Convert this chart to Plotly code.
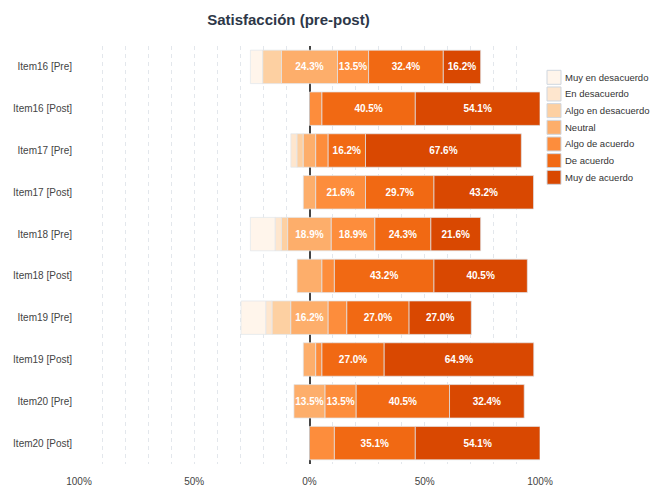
import plotly.graph_objects as go

categories = ["Item16 [Pre]", "Item16 [Post]", "Item17 [Pre]", "Item17 [Post]",
              "Item18 [Pre]", "Item18 [Post]", "Item19 [Pre]", "Item19 [Post]",
              "Item20 [Pre]", "Item20 [Post]"]

levels = ["Muy en desacuerdo", "En desacuerdo", "Algo en desacuerdo", "Neutral",
          "Algo de acuerdo", "De acuerdo", "Muy de acuerdo"]

muy_en_desacuerdo = [5.4, 0, 0, 0, 10.8, 0, 10.8, 0, 0, 0]
en_desacuerdo = [0, 0, 2.7, 0, 2.7, 0, 2.7, 0, 0, 0]
algo_en_desacuerdo = [8.1, 0, 2.7, 0, 2.7, 0, 8.1, 0, 0, 0]
neutral = [24.3, 0, 5.4, 5.4, 18.9, 10.8, 16.2, 5.4, 13.5, 0]
algo_de_acuerdo = [13.5, 5.4, 5.4, 21.6, 18.9, 5.4, 8.1, 2.7, 13.5, 10.8]
de_acuerdo = [32.4, 40.5, 16.2, 29.7, 24.3, 43.2, 27.0, 27.0, 40.5, 35.1]
muy_de_acuerdo = [16.2, 54.1, 67.6, 43.2, 21.6, 40.5, 27.0, 64.9, 32.4, 54.1]

colors = ["#fff5eb", "#fee6ce", "#fdd0a2", "#fdae6b", "#fd8d3c", "#f16913", "#d94801"]

tick_vals = [-100, -50, 0, 50, 100]
tick_text = ["100%", "50%", "0%", "50%", "100%"]

series = [muy_en_desacuerdo, en_desacuerdo, algo_en_desacuerdo, neutral,
          algo_de_acuerdo, de_acuerdo, muy_de_acuerdo]

n = len(categories)
# bases: neutral centred on zero, disagreement to the left, agreement to the right
bases = {}
bases[3] = [-v / 2 for v in neutral]
bases[4] = [v / 2 for v in neutral]
bases[5] = [bases[4][i] + algo_de_acuerdo[i] for i in range(n)]
bases[6] = [bases[5][i] + de_acuerdo[i] for i in range(n)]
bases[2] = [bases[3][i] - algo_en_desacuerdo[i] for i in range(n)]
bases[1] = [bases[2][i] - en_desacuerdo[i] for i in range(n)]
bases[0] = [bases[1][i] - muy_en_desacuerdo[i] for i in range(n)]

FONT = "Liberation Sans, Arial, Helvetica, sans-serif"
W, H = 654, 488

fig = go.Figure()
for k, (name, vals, col) in enumerate(zip(levels, series, colors)):
    xs = [v if v > 0 else None for v in vals]
    texts = [f"{v:.1f}%" if v >= 12 else "" for v in vals]
    fig.add_trace(go.Bar(
        name=name, y=categories, x=xs, base=bases[k], orientation="h",
        marker=dict(color=col, line=dict(color="rgba(225,230,236,0.9)", width=0.8)),
        text=texts, textposition="inside", insidetextanchor="middle", textangle=0,
        textfont=dict(color="white", size=10, family=FONT, weight="bold"),
        hoverinfo="skip", showlegend=False,
    ))

# custom legend (swatch + label per level), placed relative to the plot area
shapes, annotations = [], []
leg_x0, leg_y0, pitch, box = 547, 77.3, 16.67, 14
for k, (name, col) in enumerate(zip(levels, colors)):
    cy = leg_y0 + k * pitch
    shapes.append(dict(type="rect", xref="paper", yref="paper",
                       x0=(leg_x0 - 79) / 461, x1=(leg_x0 + box - 79) / 461,
                       y0=(464 - (cy + box / 2)) / 418, y1=(464 - (cy - box / 2)) / 418,
                       fillcolor=col, line=dict(color="#cfd6df", width=1)))
    annotations.append(dict(text=name, xref="paper", yref="paper",
                            x=(leg_x0 + box + 3 - 79) / 461, y=(464 - cy) / 418,
                            xanchor="left", yanchor="middle", showarrow=False,
                            borderpad=0, font=dict(size=9.5, color="#333", family=FONT)))

fig.update_layout(
    width=W, height=H,
    margin=dict(l=79, r=114, t=46, b=24, autoexpand=False),
    barmode="overlay", bargap=0.2,
    paper_bgcolor="white", plot_bgcolor="white",
    font=dict(family=FONT, size=10, color="#444"),
    uniformtext=dict(minsize=10, mode="show"),
    title=dict(text="<b>Satisfacción (pre-post)</b>", x=0.441, xref="container", xanchor="center",
               y=0.959, yref="container", yanchor="middle",
               font=dict(size=15, color="#2d3748", family=FONT)),
    showlegend=False,
    shapes=shapes, annotations=annotations,
)
fig.update_xaxes(
    range=[-100, 100], tickmode="array", tickvals=tick_vals, ticktext=tick_text,
    showgrid=True, gridcolor="#e3e7ec", griddash="4px,4px", gridwidth=1,
    minor=dict(tickmode="linear", tick0=0, dtick=10, showgrid=True,
               gridcolor="#e3e7ec", griddash="4px,4px", gridwidth=1),
    zeroline=True, zerolinecolor="#444", zerolinewidth=1.5,
    ticklabelstandoff=10, tickfont=dict(size=10, color="#444"),
    fixedrange=True,
)
fig.update_yaxes(
    autorange="reversed", showgrid=False, zeroline=False,
    ticklabelstandoff=6, tickfont=dict(size=10, color="#444"),
)

fig.write_html("out.html")
